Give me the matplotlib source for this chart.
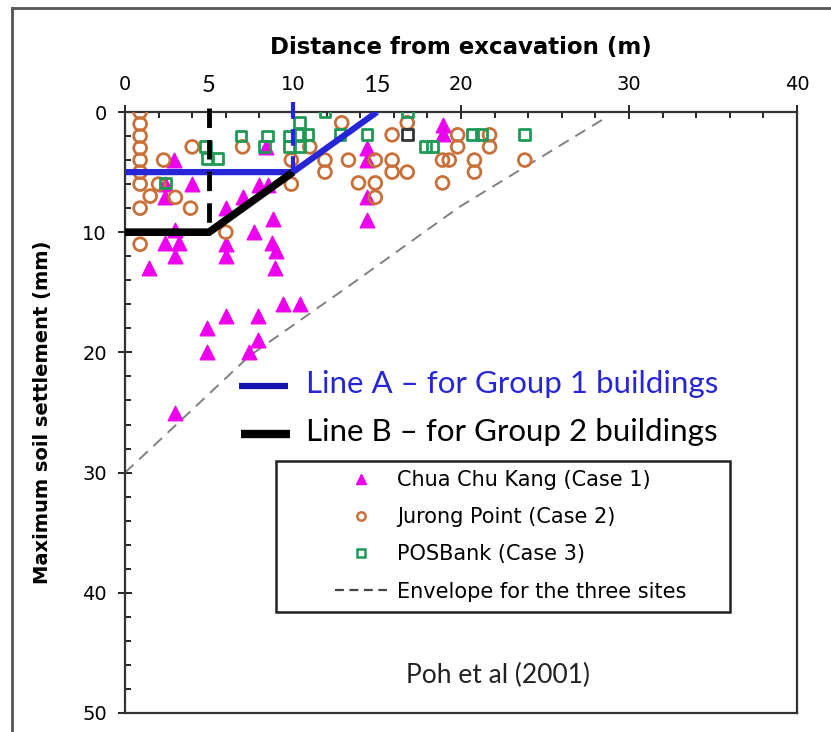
import matplotlib
matplotlib.use("Agg")
import matplotlib.pyplot as plt
from matplotlib.lines import Line2D
from matplotlib.patches import Rectangle

# ---- data (distance m, settlement mm) --------------------------------------------------
tri_x = [1.4, 2.4, 3.2, 3.0, 3.0, 3.0, 2.9, 4.0, 2.4, 2.4, 6.0, 7.0, 8.0, 8.5, 8.4, 8.8, 7.7,
         6.0, 6.0, 8.75, 9.0, 8.9, 14.4, 14.4, 14.4, 14.4, 9.4, 10.4, 6.0, 7.9, 4.9, 7.9, 4.9,
         7.4, 18.9, 18.9]
tri_y = [13.0, 10.9, 10.9, 12.0, 9.8, 25.0, 4.0, 6.0, 6.0, 7.1, 8.0, 7.1, 6.1, 6.1, 2.9, 8.9, 10.0,
         11.0, 12.0, 10.9, 11.6, 13.0, 3.0, 4.0, 7.1, 9.0, 16.0, 16.0, 17.0, 17.0, 18.0, 19.0, 20.0,
         20.0, 1.1, 1.8]

circ_x = [0.9, 0.9, 0.9, 0.9, 0.9, 0.9, 0.9, 0.9, 0.9, 1.5, 2.3, 2.0, 3.0, 3.9, 4.0, 7.0, 9.9,
          9.9, 6.0, 12.9, 11.9, 11.9, 13.3, 13.9, 14.9, 14.9, 14.9, 15.9, 15.9, 15.9, 16.8, 19.8,
          21.7, 11.0, 19.8, 21.7, 18.9, 19.3, 20.8, 23.8, 16.8, 20.8, 18.9]
circ_y = [0.0, 1.0, 2.0, 3.0, 4.0, 5.0, 6.0, 8.0, 11.0, 7.0, 4.0, 6.0, 7.1, 8.0, 2.9, 2.9, 4.0,
          6.0, 10.0, 0.9, 4.0, 5.0, 4.0, 5.9, 5.9, 7.1, 4.0, 1.9, 4.0, 5.0, 0.9, 1.9,
          1.9, 2.9, 2.9, 2.9, 4.0, 4.0, 4.0, 4.0, 5.0, 5.0, 5.9]

sq_x = [6.9, 8.5, 8.3, 4.8, 4.9, 5.5, 2.4, 9.8, 9.8, 10.4, 10.4, 10.9, 10.4, 11.9, 12.8, 14.4,
        16.8, 17.9, 18.3, 20.7, 21.2, 23.8]
sq_y = [2.0, 2.0, 2.9, 2.9, 3.9, 3.9, 5.9, 2.0, 2.9, 0.9, 1.9, 1.9, 2.9, 0.0, 1.9, 1.9,
        0.0, 2.9, 2.9, 1.9, 1.9, 1.9]
dark_sq_x = [16.8]
dark_sq_y = [1.9]

env_x = [0.0, 2.3, 7.4, 13.2, 19.9, 28.7]
env_y = [30.0, 27.0, 20.3, 14.6, 7.9, 0.4]

lineA_x = [0, 10, 15]
lineA_y = [5, 5, 0]
lineB_x = [0, 5, 10]
lineB_y = [10, 10, 5]

MAG, BROWN, GREEN = "#ee00ee", "#c8703a", "#1f9a55"
BLUE = "#2626d6"

fig = plt.figure(figsize=(8.31, 7.32), dpi=100)
# outer picture frame (left & top edges visible in the reference)
fig.add_artist(Line2D([12/831, 12/831], [0, 1 - 8/732], color="#555555", lw=2))
fig.add_artist(Line2D([12/831, 1], [1 - 8/732, 1 - 8/732], color="#555555", lw=2))

ax = fig.add_axes([125/831, 1 - 713/732, 672/831, 601/732])
ax.set_xlim(0, 40); ax.set_ylim(50, 0)
ax.xaxis.tick_top(); ax.xaxis.set_label_position("top")
ax.set_xticks([0, 10, 20, 30, 40]); ax.set_xticks(range(0, 41, 2), minor=True)
ax.set_yticks([0, 10, 20, 30, 40, 50]); ax.set_yticks(range(0, 51, 2), minor=True)
ax.tick_params(which="major", direction="inout", length=10, width=1.2, labelsize=14, pad=8)
ax.tick_params(which="minor", direction="in", length=4, width=1.2)
ax.tick_params(axis="y", which="both", right=False)
ax.tick_params(axis="x", which="both", bottom=False)
for s in ax.spines.values():
    s.set_linewidth(1.6); s.set_color("#333333")
ax.set_xlabel("Distance from excavation (m)", fontsize=16.5, fontweight="bold", labelpad=15)
ax.set_ylabel("Maximum soil settlement (mm)", fontsize=14, fontweight="bold", labelpad=22)

# envelope
ax.plot(env_x, env_y, ls=(0, (6, 4)), color="#808080", lw=1.4, zorder=2)

ax.scatter(tri_x, tri_y, marker="^", s=110, color=MAG, zorder=3)
ax.scatter(circ_x, circ_y, marker="o", s=85, facecolor="none", edgecolor=BROWN, lw=2, zorder=3)
ax.scatter(sq_x, sq_y, marker="s", s=60, facecolor="none", edgecolor=GREEN, lw=2, zorder=4)
ax.scatter(dark_sq_x, dark_sq_y, marker="s", s=60, facecolor="none", edgecolor="#333333", lw=2, zorder=4)

# criteria lines
ax.plot(lineA_x, lineA_y, color=BLUE, lw=4.5, zorder=5, solid_capstyle="butt")
ax.plot(lineB_x, lineB_y, color="black", lw=5.5, zorder=5, solid_capstyle="butt")
ax.plot([10, 10], [-0.8, 5], color=BLUE, lw=3, ls=(0, (4, 2.5)), zorder=5, clip_on=False)
ax.plot([5, 5], [-0.3, 10], color="black", lw=3.5, ls=(0, (4, 2.5)), zorder=5, clip_on=False)

# "5" and "15" added in another font
for v in (5, 15):
    ax.text(v, -1.35, str(v), transform=ax.transData, ha="center", va="bottom",
            fontsize=17, family="Lato", clip_on=False)

# Line A / Line B annotations
ax.plot([6.8, 9.7], [22.8, 22.8], color="#1515b0", lw=4.5, solid_capstyle="butt")
ax.plot([6.9, 9.8], [26.8, 26.8], color="black", lw=6, solid_capstyle="butt")
ax.text(10.8, 22.6, "Line A – for Group 1 buildings", color=BLUE, fontsize=22.5,
        family="Lato", va="center")
ax.text(10.8, 26.6, "Line B – for Group 2 buildings", color="black", fontsize=22.5,
        family="Lato", va="center")
ax.text(22.2, 46.9, "Poh et al (2001)", fontsize=19, family="Lato", ha="center", va="center",
        color="#222222")

# legend with its own frame
ax.add_patch(Rectangle((9.0, 29.0), 27.0, 12.6, fill=False, ec="#222222", lw=1.8, zorder=6))
handles = [
    Line2D([], [], marker="^", ls="none", color=MAG, ms=7),
    Line2D([], [], marker="o", ls="none", mfc="none", mec=BROWN, mew=1.8, ms=6),
    Line2D([], [], marker="s", ls="none", mfc="none", mec=GREEN, mew=1.8, ms=5.5),
    Line2D([], [], color="#444444", ls=(0, (4, 2.5)), lw=1.6),
]
labels = ["Chua Chu Kang (Case 1)", "Jurong Point (Case 2)", "POSBank (Case 3)",
          "Envelope for the three sites"]
ax.legend(handles, labels, loc="upper left", bbox_to_anchor=(0.285, 0.435), frameon=False,
          fontsize=15, handlelength=2.5, handletextpad=0.45, labelspacing=0.82)

fig.savefig("out.png", dpi=100)
